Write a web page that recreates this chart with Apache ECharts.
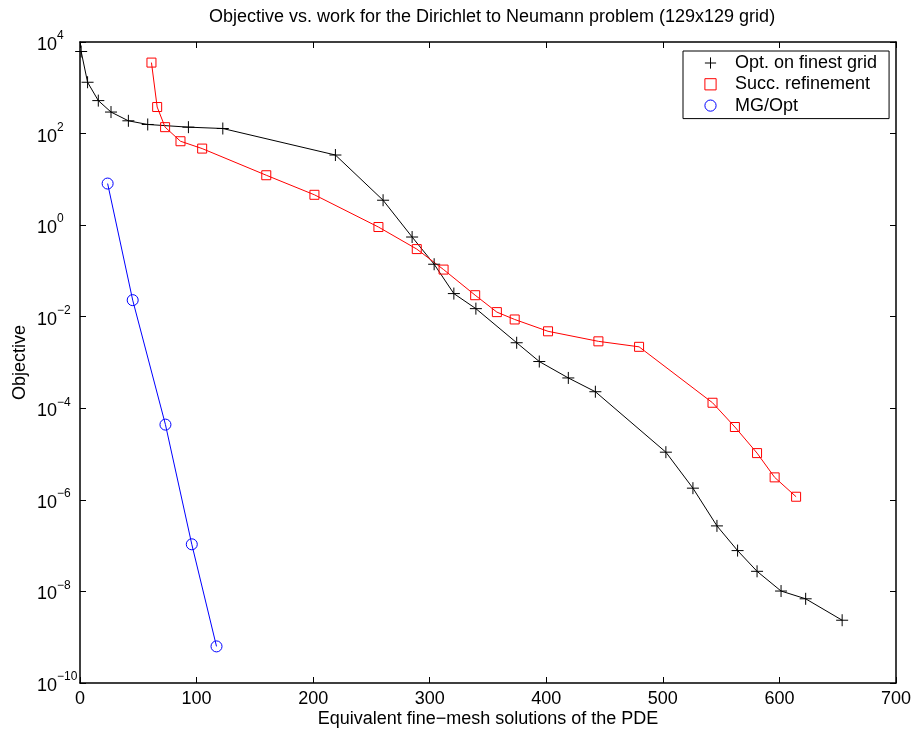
<!DOCTYPE html>
<html>
<head>
<meta charset="utf-8">
<script src="https://cdn.jsdelivr.net/npm/echarts@6/dist/echarts.min.js"></script>
<style>html,body{margin:0;padding:0;background:#fff;}#c{width:917px;height:738px;}</style>
</head>
<body>
<div id="c"></div>
<script>
var titleText = 'Objective vs. work for the Dirichlet to Neumann problem (129x129 grid)';
var xName = 'Equivalent fine\u2212mesh solutions of the PDE';
var yName = 'Objective';
var seriesNames = ['Opt. on finest grid', 'Succ. refinement', 'MG/Opt'];

var optX = [1, 6.5, 15.7, 26.6, 41.5, 58.1, 93.0, 122.5, 219.1, 260, 284.9, 303.8, 320.7, 339.6, 374.6, 394, 418.9, 442.1, 502.6, 525.8, 546.4, 564.1, 580.8, 601.4, 622.5, 653.8];
var optY = [6200, 1320, 525, 295, 190, 158, 138, 129, 34, 3.5, 0.55, 0.14, 0.032, 0.015, 0.0027, 0.00105, 4.6e-4, 2.3e-4, 1.1e-5, 1.8e-6, 2.7e-7, 7.8e-8, 2.75e-8, 1.02e-8, 6.9e-9, 2.35e-9];

var sucX = [61.3, 66.2, 73.0, 86.2, 104.8, 159.8, 201.1, 256, 288.9, 311.9, 339, 357.6, 372.9, 401.5, 444.7, 479.6, 542.6, 561.8, 580.8, 595.9, 614.3];
var sucY = [3550, 380, 138, 68, 47, 12.3, 4.6, 0.91, 0.30, 0.107, 0.0295, 0.0126, 0.0087, 0.0048, 0.0029, 0.0022, 1.32e-4, 3.9e-5, 1.05e-5, 3.1e-6, 1.17e-6];

var mgX = [23.7, 45.2, 73.3, 95.9, 117.1];
var mgY = [8.1, 0.023, 4.4e-5, 1.07e-7, 6.3e-10];

var xTicks = {min: 0, max: 700, interval: 100};
var yTicks = {min: 1e-10, max: 1e4, interval: 2};

function pairs(xs, ys) { return xs.map(function (x, i) { return [x, ys[i]]; }); }

var FONT = 'Liberation Sans, Arial, Helvetica, sans-serif';
var FS = 18;
var plusPath = 'path://M0,5L10,5M5,0L5,10';

function supLabel(v) {
  var e = Math.round(Math.log10(v));
  var s = String(e).replace('-', '\u2212');
  return '{b|10}{e|' + s + '}';
}

var axisLineStyle = {color: '#000', width: 1.5};

var chart = echarts.init(document.getElementById('c'), null, {renderer: 'canvas'});
chart.setOption({
  animation: false,
  backgroundColor: '#fff',
  textStyle: {fontFamily: FONT},
  title: {
    text: titleText,
    left: 492,
    textAlign: 'center',
    top: 8,
    padding: 0,
    textStyle: {fontFamily: FONT, fontSize: FS, fontWeight: 'normal', color: '#000'}
  },
  legend: {
    orient: 'vertical',
    left: 683,
    top: 51,
    padding: [2, 12, 3, 7],
    itemWidth: 39,
    itemHeight: 14,
    itemGap: 1.3,
    itemTextGap: 5,
    borderColor: '#000',
    borderWidth: 1,
    backgroundColor: '#fff',
    lineStyle: {opacity: 0},
    itemStyle: {borderWidth: 1},
    textStyle: {fontFamily: FONT, fontSize: FS, color: '#000', lineHeight: 20},
    data: seriesNames
  },
  grid: {left: 80, right: 21, top: 42, bottom: 55, containLabel: false, outerBoundsMode: 'none'},
  xAxis: [{
    type: 'value', min: xTicks.min, max: xTicks.max, interval: xTicks.interval,
    position: 'bottom',
    name: xName, nameLocation: 'middle', nameGap: 27, nameMoveOverlap: false,
    nameTextStyle: {fontFamily: FONT, fontSize: FS, color: '#000'},
    axisLine: {show: true, onZero: false, lineStyle: axisLineStyle},
    axisTick: {show: true, inside: true, length: 6, lineStyle: {color: '#000', width: 1}},
    axisLabel: {margin: 7, fontFamily: FONT, fontSize: FS, color: '#000'},
    splitLine: {show: false}
  }, {
    type: 'value', min: xTicks.min, max: xTicks.max, interval: xTicks.interval,
    position: 'top',
    axisLine: {show: true, onZero: false, lineStyle: axisLineStyle},
    axisTick: {show: true, inside: true, length: 6, lineStyle: {color: '#000', width: 1}},
    axisLabel: {show: false},
    splitLine: {show: false}
  }],
  yAxis: [{
    type: 'log', logBase: 10, min: yTicks.min, max: yTicks.max, interval: yTicks.interval,
    position: 'left',
    name: yName, nameLocation: 'middle', nameGap: 51, nameRotate: 90, nameMoveOverlap: false,
    nameTextStyle: {fontFamily: FONT, fontSize: FS, color: '#000'},
    axisLine: {show: true, onZero: false, lineStyle: axisLineStyle},
    axisTick: {show: true, inside: true, length: 6, lineStyle: {color: '#000', width: 1}},
    axisLabel: {
      margin: 43, align: 'left', color: '#000',
      formatter: supLabel,
      rich: {
        b: {fontFamily: FONT, fontSize: FS, color: '#000', verticalAlign: 'bottom', lineHeight: 24},
        e: {fontFamily: FONT, fontSize: 12, color: '#000', verticalAlign: 'top', lineHeight: 24}
      }
    },
    splitLine: {show: false},
    minorTick: {show: false}
  }, {
    type: 'log', logBase: 10, min: yTicks.min, max: yTicks.max, interval: yTicks.interval,
    position: 'right',
    axisLine: {show: true, onZero: false, lineStyle: axisLineStyle},
    axisTick: {show: true, inside: true, length: 6, lineStyle: {color: '#000', width: 1}},
    axisLabel: {show: false},
    splitLine: {show: false}
  }],
  series: [{
    name: seriesNames[0], type: 'line', xAxisIndex: 0, yAxisIndex: 0,
    data: pairs(optX, optY),
    symbol: plusPath, symbolSize: 12,
    itemStyle: {color: '#000', borderColor: '#000', borderWidth: 1},
    lineStyle: {color: '#000', width: 1},
    emphasis: {disabled: true}, silent: true
  }, {
    name: seriesNames[1], type: 'line', xAxisIndex: 0, yAxisIndex: 0,
    data: pairs(sucX, sucY),
    symbol: 'rect', symbolSize: 9,
    itemStyle: {color: 'rgba(255,255,255,0)', borderColor: '#ff0000', borderWidth: 1},
    lineStyle: {color: '#ff0000', width: 1},
    emphasis: {disabled: true}, silent: true
  }, {
    name: seriesNames[2], type: 'line', xAxisIndex: 0, yAxisIndex: 0,
    data: pairs(mgX, mgY),
    symbol: 'circle', symbolSize: 11,
    itemStyle: {color: 'rgba(255,255,255,0)', borderColor: '#0000ff', borderWidth: 1},
    lineStyle: {color: '#0000ff', width: 1},
    emphasis: {disabled: true}, silent: true
  }]
});
</script>
</body>
</html>
